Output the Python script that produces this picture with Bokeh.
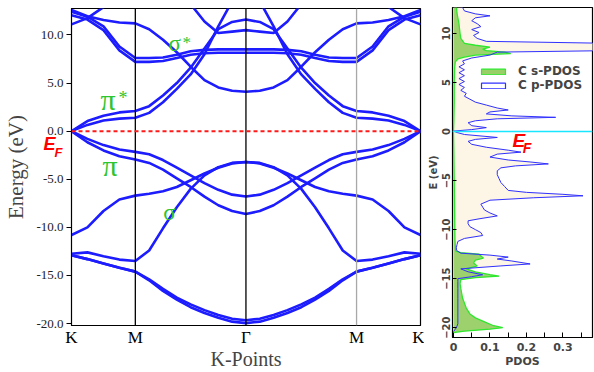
from bokeh.plotting import figure
from bokeh.models import (Range1d, FixedTicker, Span, Label, Legend, LegendItem,
                          PrintfTickFormatter, LinearAxis)
from bokeh.layouts import row
from bokeh.embed import file_html
from bokeh.resources import INLINE

# ---------------- band structure data ----------------
kpath = [0.0, 0.144, 0.289, 0.433, 0.577, 0.702, 0.827, 0.952, 1.077, 1.202, 1.327,
         1.452, 1.577, 1.702, 1.827, 1.952, 2.077, 2.202, 2.327, 2.452, 2.577,
         2.722, 2.866, 3.010, 3.155]
kticks = [0.0, 0.577, 1.577, 2.577, 3.155]
ktick_labels = ["K", "M", "Γ", "M", "K"]
energy_ticks = [-20, -15, -10, -5, 0, 5, 10]

sigma1_a = [-12.9, -13.3, -13.75, -14.2, -14.6, -15.5, -16.6, -17.5, -18.3, -18.9, -19.4, -19.8, -19.95,
            -19.8, -19.4, -18.9, -18.3, -17.5, -16.6, -15.5, -14.6, -14.2, -13.75, -13.3, -12.9]
sigma1_b = [-12.9, -13.3, -13.75, -14.2, -14.6, -15.4, -16.4, -17.3, -18.0, -18.6, -19.1, -19.5, -19.65,
            -19.5, -19.1, -18.6, -18.0, -17.3, -16.4, -15.4, -14.6, -14.2, -13.75, -13.3, -12.9]
sigma2 = [-12.75, -12.6, -13.0, -13.35, -13.5, -12.4, -10.1, -7.9, -6.0, -4.6, -3.75, -3.3, -3.2,
          -3.3, -3.75, -4.6, -6.0, -7.9, -10.1, -12.4, -13.5, -13.35, -13.0, -12.6, -12.75]
sigma3 = [-10.8, -10.0, -8.3, -7.1, -6.7, -6.5, -6.25, -5.8, -5.1, -4.4, -3.8, -3.35, -3.2,
          -3.35, -3.8, -4.4, -5.1, -5.8, -6.25, -6.5, -6.7, -7.1, -8.3, -10.0, -10.8]
pi_1 = [0.0, -0.8, -1.45, -1.9, -2.15, -2.4, -3.0, -3.8, -4.6, -5.4, -6.1, -6.6, -6.8,
        -6.6, -6.1, -5.4, -4.6, -3.8, -3.0, -2.4, -2.15, -1.9, -1.45, -0.8, 0.0]
pi_2 = [0.0, -1.15, -2.0, -2.6, -2.95, -3.3, -4.0, -4.9, -5.8, -6.8, -7.7, -8.3, -8.6,
        -8.3, -7.7, -6.8, -5.8, -4.9, -4.0, -3.3, -2.95, -2.6, -2.0, -1.15, 0.0]
pistar_1 = [0.0, 1.05, 1.6, 1.95, 2.1, 2.6, 3.7, 5.0, 6.6, 8.6, 10.6, 11.35, 11.6,
            11.35, 10.6, 8.6, 6.6, 5.0, 3.7, 2.6, 2.1, 1.95, 1.6, 1.05, 0.0]
pistar_2 = [0.0, 0.65, 1.1, 1.3, 1.4, 1.9, 3.0, 4.4, 5.9, 8.0, 10.9, 13.5, 14.5,
            13.5, 10.9, 8.0, 5.9, 4.4, 3.0, 1.9, 1.4, 1.3, 1.1, 0.65, 0.0]
upper_u = [11.1, 11.75, 12.9, 14.3, 15.0, 15.2, 15.0, 14.3, 13.2, 11.4, 10.2, 10.35, 10.5,
           10.35, 10.2, 11.4, 13.2, 14.3, 15.0, 15.2, 15.0, 14.3, 12.9, 11.75, 11.1]
upper_fa = [12.4, 11.9, 10.9, 8.8, 7.6, 7.6, 7.65, 7.95, 8.3, 8.45, 8.5, 8.5, 8.5,
            8.5, 8.5, 8.45, 8.3, 7.95, 7.65, 7.6, 7.6, 8.8, 10.9, 11.9, 12.4]
upper_fb = [12.05, 11.6, 10.5, 8.4, 7.2, 7.2, 7.3, 7.6, 7.95, 8.1, 8.15, 8.15, 8.15,
            8.15, 8.15, 8.1, 7.95, 7.6, 7.3, 7.2, 7.2, 8.4, 10.5, 11.6, 12.05]
upper_b = [12.6, 11.95, 11.55, 11.3, 11.2, 10.6, 9.5, 8.2, 6.7, 5.3, 4.55, 4.2, 4.1,
           4.2, 4.55, 5.3, 6.7, 8.2, 9.5, 10.6, 11.2, 11.3, 11.55, 11.95, 12.6]

bands = [sigma1_a, sigma1_b, sigma2, sigma3, pi_1, pi_2, pistar_1, pistar_2,
         upper_u, upper_fa, upper_fb, upper_b]

# ---------------- PDOS data ----------------
p_energy = [12.65, 12.3, 12.0, 11.8, 11.6, 11.3, 11.0, 10.7, 10.4, 10.1,
            9.8, 9.5, 9.2, 9.0, 8.8, 8.6, 8.4, 8.25, 8.1, 7.8,
            7.5, 7.2, 6.9, 6.6, 6.3, 6.0, 5.7, 5.4, 5.1, 4.8,
            4.5, 4.2, 3.9, 3.6, 3.3, 3.0, 2.7, 2.4, 2.2, 2.0,
            1.8, 1.6, 1.45, 1.3, 1.1, 0.9, 0.6, 0.4, 0.2, 0.05,
            -0.1, -0.3, -0.6, -0.8, -1.0, -1.3, -1.6, -1.9, -2.1, -2.3,
            -2.6, -2.9, -3.1, -3.3, -3.5, -3.7, -4.0, -4.4, -4.8, -5.2,
            -5.6, -6.0, -6.2, -6.4, -6.55, -6.75, -7.0, -7.4, -7.7, -8.0,
            -8.3, -8.6, -8.9, -9.1, -9.4, -9.7, -10.0, -10.3, -10.6, -10.9,
            -11.2, -11.5, -11.8, -12.1, -12.4, -12.6, -12.8, -13.0, -13.2, -13.5,
            -13.7, -14.0, -14.3, -14.6, -14.8, -15.0, -15.3, -16.0, -17.0, -18.0,
            -19.0, -19.6, -20.0, -20.2, -20.4]
p_pdos = [0.025, 0.03, 0.06, 0.10, 0.06, 0.05, 0.065, 0.075, 0.05, 0.07,
          0.055, 0.065, 0.09, 0.42, 0.45, 0.45, 0.45, 0.42, 0.12, 0.10,
          0.05, 0.025, 0.03, 0.015, 0.03, 0.015, 0.03, 0.015, 0.03, 0.015,
          0.03, 0.02, 0.035, 0.03, 0.045, 0.06, 0.09, 0.12, 0.15, 0.10,
          0.09, 0.16, 0.28, 0.12, 0.06, 0.04, 0.05, 0.09, 0.05, 0.0,
          0.01, 0.03, 0.12, 0.06, 0.04, 0.05, 0.09, 0.15, 0.185, 0.12,
          0.10, 0.15, 0.21, 0.26, 0.17, 0.13, 0.12, 0.12, 0.125, 0.13,
          0.14, 0.15, 0.20, 0.30, 0.355, 0.22, 0.10, 0.075, 0.08, 0.085,
          0.10, 0.12, 0.07, 0.04, 0.04, 0.045, 0.06, 0.075, 0.08, 0.03,
          0.012, 0.01, 0.008, 0.008, 0.02, 0.10, 0.15, 0.12, 0.16, 0.21,
          0.13, 0.02, 0.04, 0.08, 0.05, 0.012, 0.012, 0.012, 0.012, 0.012,
          0.012, 0.012, 0.008, 0.004, 0.0]

s_energy = [12.65, 12.0, 11.0, 10.0, 9.5, 9.0, 8.8, 8.6, 8.4, 8.25,
            8.1, 7.95, 7.8, 7.6, 7.4, 7.1, 6.5, 5.0, 3.0, 1.0,
            0.0, -2.0, -5.0, -8.0, -11.0, -12.2, -12.35, -12.5, -12.7, -12.9,
            -13.1, -13.4, -13.7, -14.0, -14.3, -14.6, -14.75, -14.9, -15.1, -15.5,
            -16.0, -17.0, -18.0, -18.6, -19.0, -19.4, -19.8, -20.0, -20.15, -20.35,
            -20.5]
s_pdos = [0.008, 0.01, 0.015, 0.018, 0.02, 0.03, 0.06, 0.10, 0.08, 0.09,
          0.14, 0.157, 0.06, 0.03, 0.012, 0.005, 0.003, 0.002, 0.002, 0.001,
          0.0, 0.001, 0.002, 0.003, 0.004, 0.006, 0.02, 0.07, 0.075, 0.082,
          0.06, 0.055, 0.065, 0.035, 0.06, 0.10, 0.125, 0.06, 0.02, 0.018,
          0.02, 0.025, 0.035, 0.045, 0.06, 0.085, 0.11, 0.135, 0.10, 0.03,
          0.0]
pdos_ticks = [0.0, 0.1, 0.2, 0.3]
pdos_minor = [0.05, 0.15, 0.25, 0.35]
pdos_energy_ticks = [-20, -15, -10, -5, 0, 5, 10]

BLUE = "#1c1cff"
GREEN_TXT = "#2fc52f"
NAN = float("nan")

# ---------------- band figure ----------------
p = figure(width=424, height=372, x_range=Range1d(0, 3.155), y_range=Range1d(-20.2, 12.75),
           output_backend="svg", toolbar_location=None, y_axis_location=None, frame_align=False,
           min_border_left=71, min_border_right=4, min_border_top=8, min_border_bottom=46)
p.grid.visible = False
p.outline_line_color = "black"
p.outline_line_width = 1.2

# innermost axis: tick marks (as minor ticks) + subscript "F" of E_F
ax_f = LinearAxis(ticker=FixedTicker(ticks=[-2.2], minor_ticks=energy_ticks),
                  major_label_overrides={-2.2: "F"}, major_tick_out=0, major_tick_in=0,
                  minor_tick_out=5, minor_tick_in=0, axis_line_color="black",
                  major_label_standoff=4,
                  major_label_text_font="Liberation Sans", major_label_text_font_style="bold italic",
                  major_label_text_font_size="13px", major_label_text_color="#ff0000")
p.add_layout(ax_f, "left")

# E of E_F
ax_e = LinearAxis(ticker=FixedTicker(ticks=[-1.35], minor_ticks=[]),
                  major_label_overrides={-1.35: "E"}, major_tick_out=0, major_tick_in=0,
                  minor_tick_out=0, axis_line_color=None, major_label_standoff=-4,
                  major_label_text_font="Liberation Sans", major_label_text_font_style="bold italic",
                  major_label_text_font_size="18px", major_label_text_color="#ff0000")
p.add_layout(ax_e, "left")

# numeric tick labels
ax_num = LinearAxis(ticker=FixedTicker(ticks=energy_ticks, minor_ticks=[]),
                    formatter=PrintfTickFormatter(format="%.1f"),
                    major_tick_out=0, major_tick_in=0, minor_tick_out=0, axis_line_color=None,
                    major_label_standoff=-23, major_label_text_font="Liberation Serif",
                    major_label_text_font_size="13px", major_label_text_color="#222222",
                    major_label_text_baseline="alphabetic")
p.add_layout(ax_num, "left")

# axis title
ax_lab = LinearAxis(ticker=FixedTicker(ticks=[], minor_ticks=[]), major_tick_out=0,
                    major_tick_in=0, minor_tick_out=0, axis_line_color=None,
                    axis_label="Energy (eV)",
                    axis_label_text_font="Liberation Serif", axis_label_text_font_size="21px",
                    axis_label_text_font_style="normal", axis_label_standoff=6)
p.add_layout(ax_lab, "left")

xax = p.xaxis[0]
xax.ticker = FixedTicker(ticks=kticks, minor_ticks=[])
xax.major_label_overrides = {k: lab for k, lab in zip(kticks, ktick_labels)}
xax.major_label_text_font = "Liberation Serif"
xax.major_label_text_font_size = "17px"
xax.major_label_text_color = "black"
xax.major_tick_out = 0
xax.major_tick_in = 0
xax.minor_tick_out = 0
xax.major_label_standoff = 2
xax.axis_label = "K-Points"
xax.axis_label_text_font = "Liberation Serif"
xax.axis_label_text_font_size = "20px"
xax.axis_label_text_font_style = "normal"
xax.axis_label_standoff = -2

for k, col in zip(kticks[1:4], ["black", "black", "#a8a8a8"]):
    p.add_layout(Span(location=k, dimension="height", line_color=col, line_width=1.3))

for b in bands:
    p.line(kpath, b, line_color=BLUE, line_width=2.6)

p.add_layout(Span(location=0, dimension="width", line_color="#ff1a1a", line_width=2,
                  line_dash="4 3"))

def lab(fig, x, y, text, size, color, font="Liberation Serif", style="normal"):
    fig.add_layout(Label(x=x, y=y, text=text, text_font=font, text_font_size=size,
                         text_color=color, text_font_style=style,
                         text_baseline="middle", text_align="left"))

lab(p, 0.877, 9.15, "σ", "23px", GREEN_TXT)
lab(p, 1.004, 9.25, "*", "17px", GREEN_TXT)
lab(p, 0.262, 3.3, "π", "30px", GREEN_TXT)
lab(p, 0.425, 3.4, "*", "18px", GREEN_TXT)
lab(p, 0.28, -3.6, "π", "30px", GREEN_TXT)
lab(p, 0.83, -8.45, "σ", "23px", GREEN_TXT)

# ---------------- PDOS figure ----------------
q = figure(width=170, height=372, x_range=Range1d(-0.0027, 0.381), y_range=Range1d(-21.0, 12.65),
           output_backend="svg", toolbar_location=None, frame_align=False,
           min_border_left=28, min_border_right=2, min_border_top=7, min_border_bottom=35)
q.grid.visible = False
q.outline_line_color = "black"
q.outline_line_width = 1.2

q.harea(x1=0, x2=p_pdos, y=p_energy, fill_color="#fdf5e6")
q.harea(x1=0, x2=s_pdos, y=s_energy, fill_color="#98cf66", fill_alpha=0.95)
q.line(s_pdos, s_energy, line_color="#2ee82e", line_width=1.3)
q.line(p_pdos, p_energy, line_color="#3030ff", line_width=1.0)
q.add_layout(Span(location=0, dimension="width", line_color="#19e6ff", line_width=1.6))

qy = q.yaxis[0]
qy.ticker = FixedTicker(ticks=pdos_energy_ticks, minor_ticks=[])
qy.major_label_orientation = "vertical"
qy.major_label_text_font = "DejaVu Sans"
qy.major_label_text_font_style = "bold"
qy.major_label_text_font_size = "10px"
qy.major_tick_in = 4
qy.major_tick_out = 0
qy.minor_tick_out = 0
qy.major_label_standoff = 2
qy.axis_label = "E (eV)"
qy.axis_label_text_font = "DejaVu Sans"
qy.axis_label_text_font_style = "bold"
qy.axis_label_text_font_size = "10px"
qy.axis_label_standoff = 1

qx = q.xaxis[0]
qx.ticker = FixedTicker(ticks=pdos_ticks, minor_ticks=pdos_minor)
qx.major_label_overrides = {0.0: "0"}
qx.major_label_text_font = "DejaVu Sans"
qx.major_label_text_font_style = "bold"
qx.major_label_text_font_size = "11px"
qx.major_tick_in = 5
qx.major_tick_out = 0
qx.minor_tick_in = 5
qx.minor_tick_out = 0
qx.major_label_standoff = 5
qx.axis_label = "PDOS"
qx.axis_label_text_font = "DejaVu Sans"
qx.axis_label_text_font_style = "bold"
qx.axis_label_text_font_size = "11px"
qx.axis_label_standoff = 1

lab(q, 0.162, -0.92, "E", "19px", "#ff0000", font="Liberation Sans", style="bold italic")
lab(q, 0.19, -1.63, "F", "14px", "#ff0000", font="Liberation Sans", style="bold italic")

leg_s = q.quad(left=[NAN], right=[NAN], top=[NAN], bottom=[NAN],
               fill_color="#98cf66", line_color="#2ee82e", line_width=1.2)
leg_p = q.quad(left=[NAN], right=[NAN], top=[NAN], bottom=[NAN],
               fill_color="#ffffff", line_color="#3030ff", line_width=1.2)
legend = Legend(items=[LegendItem(label="C s-PDOS", renderers=[leg_s]),
                       LegendItem(label="C p-PDOS", renderers=[leg_p])],
                location=(26, 245), glyph_width=30, glyph_height=7, label_height=12,
                spacing=0, padding=0, margin=0, label_standoff=10,
                label_text_font="DejaVu Sans", label_text_font_style="bold",
                label_text_font_size="12px", background_fill_alpha=0,
                border_line_alpha=0)
q.add_layout(legend)

layout = row(p, q)
open("out.html", "w").write(file_html(layout, INLINE))
